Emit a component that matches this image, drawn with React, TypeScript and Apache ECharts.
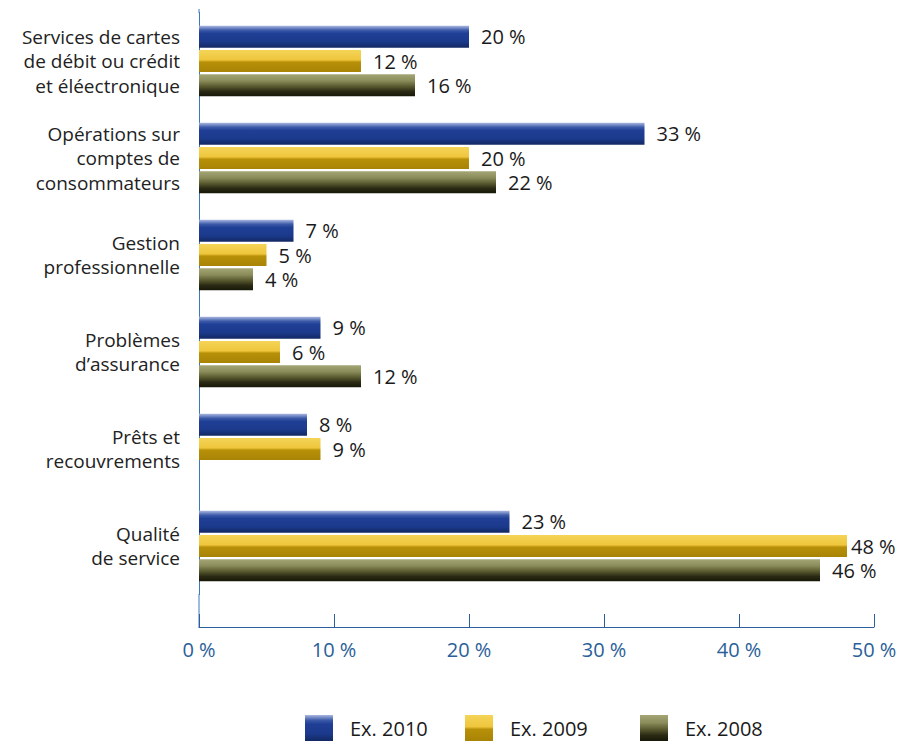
import React, { useEffect, useRef } from "react";
import * as echarts from "echarts";

const categories = [
  "Services de cartes\nde débit ou crédit\net éléectronique",
  "Opérations sur\ncomptes de\nconsommateurs",
  "Gestion\nprofessionnelle",
  "Problèmes\nd’assurance",
  "Prêts et\nrecouvrements",
  "Qualité\nde service",
];
const seriesNames = ["Ex. 2010", "Ex. 2009", "Ex. 2008"];
const values2010 = [20, 33, 7, 9, 8, 23];
const values2009 = [12, 20, 5, 6, 9, 48];
const values2008: (number | null)[] = [16, 22, 4, 12, null, 46];
const xTicks = [0, 10, 20, 30, 40, 50];

const FONT = "'Open Sans', 'Noto Sans', sans-serif";

function grad(stops: [number, string][]) {
  return new echarts.graphic.LinearGradient(
    0, 0, 0, 1,
    stops.map(([offset, color]) => ({ offset, color }))
  );
}

export default function App() {
  const ref = useRef<HTMLDivElement>(null);
  useEffect(() => {
    if (!ref.current) return;
    const chart = echarts.init(ref.current, undefined, { renderer: "svg" });
    const blue = grad([
      [0, "#aab8e2"], [0.2, "#3c5aa8"], [0.35, "#1f3f96"], [0.72, "#1c3a8c"], [1, "#122862"],
    ]);
    const yellow = grad([
      [0, "#f4d458"], [0.45, "#efc63c"], [0.55, "#b89008"], [1, "#a88406"],
    ]);
    const olive = grad([
      [0, "#a4a676"], [0.3, "#8a8c5a"], [0.55, "#5a5a30"], [0.78, "#2a2a14"], [1, "#181808"],
    ]);
    const colors = [blue, yellow, olive];
    const data = [values2010, values2009, values2008];
    const series = seriesNames.map((name, i) => ({
      name,
      type: "bar" as const,
      data: data[i].map((v) =>
        v != null && v > 47 ? { value: v, label: { distance: 4 } } : v
      ),
      barWidth: 22,
      barGap: "10%",
      barCategoryGap: "20%",
      itemStyle: { color: colors[i] },
      label: {
        show: true,
        position: "right" as const,
        distance: 12,
        formatter: (p: any) => `${p.value} %`,
        color: "#1a1a1a",
        fontSize: 20,
        fontFamily: FONT,
      },
    }));
    const legendLefts = [305, 465, 640];
    chart.setOption({
      animation: false,
      grid: { left: 199, right: 26, top: 12.5, bottom: 146.5, containLabel: false },
      xAxis: {
        type: "value",
        min: 0,
        max: 50,
        interval: 10,
        offset: 32.5,
        axisLine: { show: true, lineStyle: { color: "#2d5f9c", width: 1 } },
        axisTick: { show: true, inside: true, length: 13, lineStyle: { color: "#2d5f9c" } },
        splitLine: { show: false },
        axisLabel: {
          formatter: (v: number) => `${v} %`,
          color: "#2a6099",
          fontSize: 20,
          fontFamily: FONT,
          margin: 12,
          customValues: xTicks,
        },
      },
      yAxis: {
        type: "category",
        inverse: true,
        data: categories,
        axisLine: { show: true, lineStyle: { color: "#3a78c0", width: 1 } },
        axisTick: { show: false },
        axisLabel: {
          color: "#222",
          fontSize: 19,
          fontFamily: FONT,
          lineHeight: 24.5,
          margin: 19,
          align: "right",
        },
      },
      legend: seriesNames.map((name, i) => ({
        top: 715,
        left: legendLefts[i],
        padding: 0,
        itemWidth: 28,
        itemHeight: 26,
        icon: "rect",
        textStyle: { color: "#1a1a1a", fontSize: 20, fontFamily: FONT, padding: [0, 0, 0, 12] },
        data: [name],
      })),
      graphic: [
        {
          type: "line",
          shape: { x1: 199, y1: 594, x2: 199, y2: 627.5 },
          style: { stroke: "#3a78c0", lineWidth: 1 },
        },
        {
          type: "line",
          shape: { x1: 199, y1: 9, x2: 199, y2: 13 },
          style: { stroke: "#3a78c0", lineWidth: 1 },
        },
      ],
      series,
    });
    return () => chart.dispose();
  }, []);
  return (
    <div
      ref={ref}
      style={{ position: "fixed", left: 0, top: 0, width: 900, height: 741, background: "#fff" }}
    />
  );
}
